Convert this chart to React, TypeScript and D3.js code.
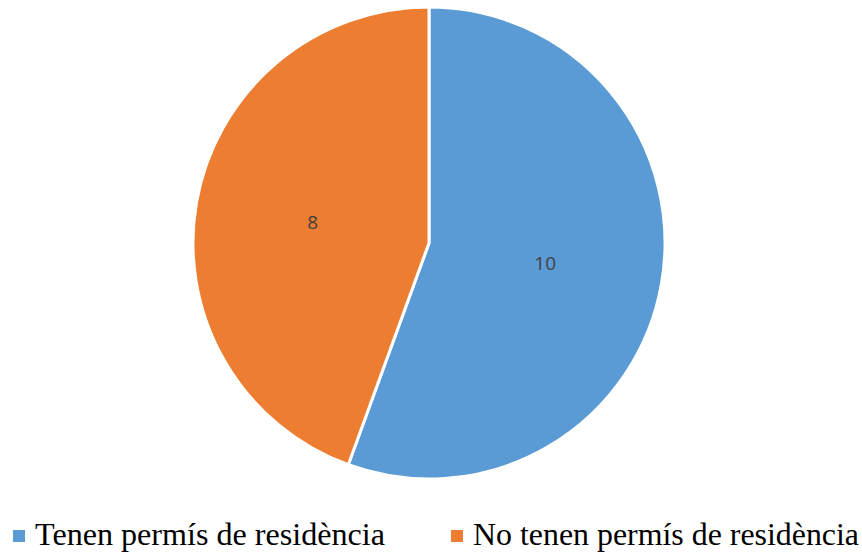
import React, { useEffect, useRef } from 'react';
import * as d3 from 'd3';

const categories = ['Tenen permís de residència', 'No tenen permís de residència'];
const values = [10, 8];
const colors = ['#5B9BD5', '#ED7D31'];

const App: React.FC = () => {
  const svgRef = useRef<SVGSVGElement>(null);

  useEffect(() => {
    if (!svgRef.current) return;
    const width = 862;
    const height = 555;
    const svg = d3.select(svgRef.current);
    svg.selectAll('*').remove();
    svg.attr('width', width).attr('height', height);

    const cx = 429;
    const cy = 243;
    const radius = 236;

    const pie = d3.pie<number>().sort(null).value(d => d);
    const arcs = pie(values);
    const arc = d3.arc<d3.PieArcDatum<number>>().innerRadius(0).outerRadius(radius);
    const labelArc = d3.arc<d3.PieArcDatum<number>>().innerRadius(radius * 0.5).outerRadius(radius * 0.5);

    const g = svg.append('g').attr('transform', `translate(${cx},${cy})`);

    g.selectAll('path.slice')
      .data(arcs)
      .enter()
      .append('path')
      .attr('class', 'slice')
      .attr('d', arc)
      .attr('fill', (_, i) => colors[i])
      .attr('stroke', '#fff')
      .attr('stroke-width', 3)
      .attr('stroke-linejoin', 'round');

    g.selectAll('text.lbl')
      .data(arcs)
      .enter()
      .append('text')
      .attr('class', 'lbl')
      .attr('transform', d => `translate(${labelArc.centroid(d)})`)
      .attr('text-anchor', 'middle')
      .attr('dy', '0.35em')
      .attr('font-family', '"Open Sans", "Liberation Sans", sans-serif')
      .attr('font-size', 19)
      .attr('fill', '#404040')
      .text(d => d.data);

    // Legend
    const legendX = [13, 451];
    const legendLen = [350, 386];
    const legend = svg.append('g');
    categories.forEach((c, i) => {
      legend.append('rect')
        .attr('x', legendX[i])
        .attr('y', 530)
        .attr('width', 12)
        .attr('height', 12)
        .attr('fill', colors[i]);
      legend.append('text')
        .attr('x', legendX[i] + 22)
        .attr('y', 545)
        .attr('font-family', '"Liberation Serif", serif')
        .attr('font-size', 32)
        .attr('fill', '#000')
        .attr('textLength', legendLen[i])
        .attr('lengthAdjust', 'spacingAndGlyphs')
        .text(c);
    });
  }, []);

  return (
    <svg ref={svgRef} style={{ position: 'absolute', left: 0, top: 0, display: 'block' }}></svg>
  );
};

export default App;
